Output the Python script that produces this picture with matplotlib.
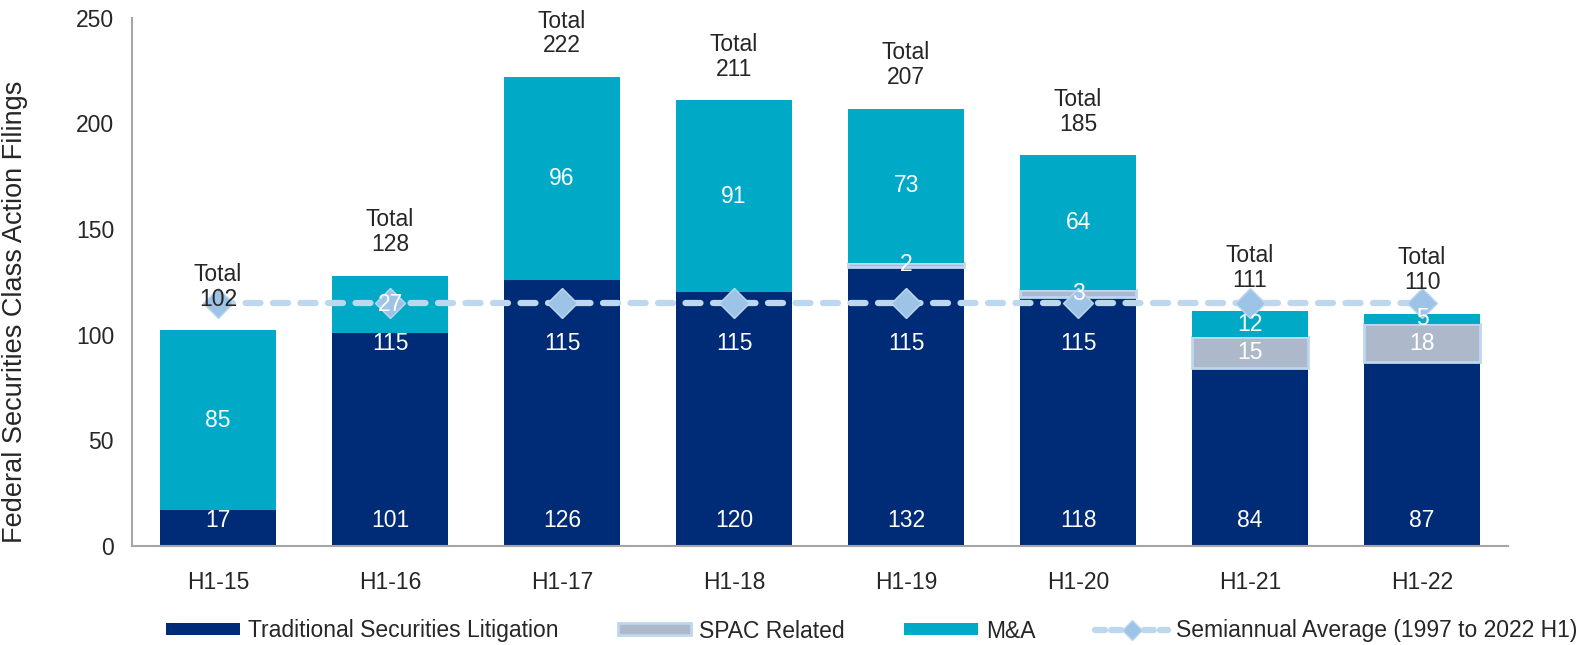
import numpy as np
import matplotlib
matplotlib.use("Agg")
import matplotlib.pyplot as plt
from matplotlib.lines import Line2D
from matplotlib.patches import Patch

plt.rcParams['font.family'] = ['Liberation Sans', 'DejaVu Sans']

# semiannual filing counts
periods = ['H1-15', 'H1-16', 'H1-17', 'H1-18', 'H1-19', 'H1-20', 'H1-21', 'H1-22']
traditional = [17, 101, 126, 120, 132, 118, 84, 87]
spac = [0, 0, 0, 0, 2, 3, 15, 18]
mna = [85, 27, 96, 91, 73, 64, 12, 5]
average = [115, 115, 115, 115, 115, 115, 115, 115]
avg_labelled = [False, True, True, True, True, True, False, False]

NAVY = '#002B76'
GREY = '#ADB9CA'
TEAL = '#00AAC6'
LIGHT = '#BDD7EE'
DIAMOND = '#9DC3E6'
TEXT = '#262626'
FS = 16.5

fig = plt.figure(figsize=(15.78, 6.45), dpi=100)
ax = fig.add_axes([0.0837, 0.1535, 0.872, 0.819])

x = np.arange(len(periods))
w = 0.67
trad = np.array(traditional)
sp = np.array(spac)
ma = np.array(mna)
totals = trad + sp + ma

ax.bar(x, trad, w, color=NAVY, linewidth=0, zorder=2)
ax.bar(x, sp, w, bottom=trad, color=GREY, edgecolor=LIGHT,
       linewidth=[2.0 if v else 0 for v in spac], zorder=2)
ax.bar(x, ma, w, bottom=trad + sp, color=TEAL, linewidth=0, zorder=2)

ax.plot(x, average, color=LIGHT, lw=4.5, ls=(0, (2.4, 2.0)), dash_capstyle='round',
        marker='D', markersize=15, markerfacecolor=DIAMOND, markeredgecolor=LIGHT,
        markeredgewidth=1, zorder=3)

# segment labels
for i in range(len(x)):
    ax.annotate(str(trad[i]), (x[i], 0), xytext=(0, 18), textcoords='offset points',
                ha='center', va='center', color='white', fontsize=FS, zorder=4)
    if sp[i]:
        ax.text(x[i], trad[i] + sp[i] / 2, str(sp[i]), ha='center', va='center',
                color='white', fontsize=FS, zorder=4)
    if ma[i]:
        ax.text(x[i], trad[i] + sp[i] + ma[i] / 2, str(ma[i]), ha='center', va='center',
                color='white', fontsize=FS, zorder=4)
    ax.annotate(f'Total\n{totals[i]}', (x[i], totals[i]), xytext=(0, 14),
                textcoords='offset points', ha='center', va='bottom',
                fontsize=FS, color=TEXT, linespacing=1.1, zorder=4)
    if avg_labelled[i]:
        ax.annotate(str(average[i]), (x[i], average[i]), xytext=(0, -29),
                    textcoords='offset points', ha='center', va='center',
                    fontsize=FS, color='white', zorder=4)

ax.set_xlim(-0.5, 7.5)
ax.set_ylim(0, 250)
ax.set_yticks([0, 50, 100, 150, 200, 250])
ax.set_xticks(x)
ax.set_xticklabels(periods)
ax.tick_params(axis='both', length=0, labelsize=FS, colors=TEXT)
ax.tick_params(axis='x', pad=18)
ax.tick_params(axis='y', pad=13)
for s in ['top', 'right']:
    ax.spines[s].set_visible(False)
for s in ['left', 'bottom']:
    ax.spines[s].set_color('#A6A6A6')
    ax.spines[s].set_linewidth(1.5)

ax.set_ylabel('Federal Securities Class Action Filings', fontsize=19.5, color=TEXT)
ax.yaxis.set_label_coords(-0.076, 0.443)

handles = [
    Patch(facecolor=NAVY, edgecolor='none'),
    Patch(facecolor=GREY, edgecolor=LIGHT, linewidth=2),
    Patch(facecolor=TEAL, edgecolor='none'),
    Line2D([0], [0], color=LIGHT, lw=4.5, ls=(0, (1.6, 1.0)), dash_capstyle='round',
           marker='D', markersize=10, markerfacecolor=DIAMOND, markeredgecolor=LIGHT),
]
labels = ['Traditional Securities Litigation', 'SPAC Related', 'M&A',
          'Semiannual Average (1997 to 2022 H1)']
fig.legend(handles, labels, loc='center', bbox_to_anchor=(872 / 1578, 1 - 631 / 645),
           ncol=4, frameon=False, fontsize=FS, handlelength=3.2, handleheight=0.44,
           handletextpad=0.35, columnspacing=2.6, labelcolor=TEXT)

fig.savefig('out.png', dpi=100)
